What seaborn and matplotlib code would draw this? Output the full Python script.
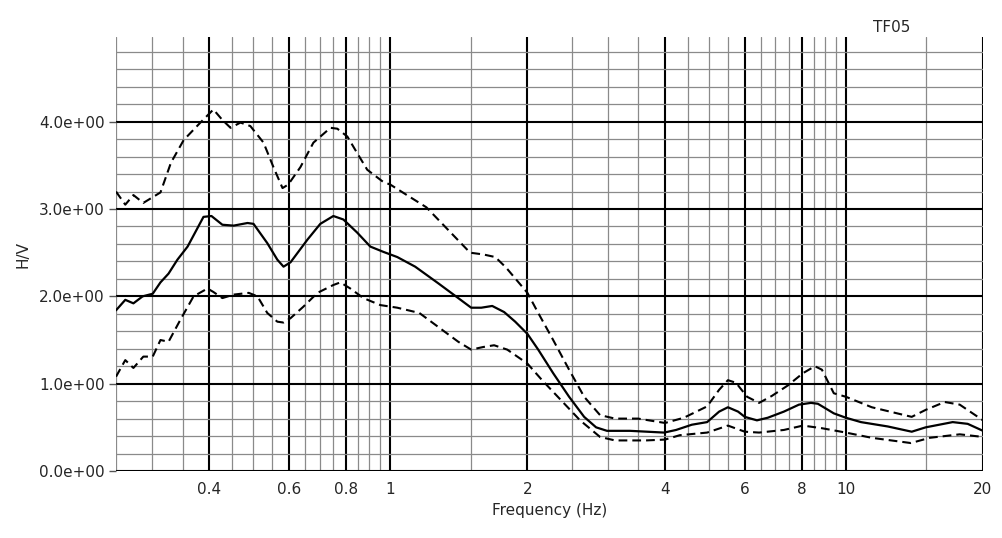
import numpy as np
import pandas as pd
import matplotlib
matplotlib.use("Agg")
import matplotlib.pyplot as plt
import seaborn as sns
from matplotlib.ticker import FixedLocator, NullFormatter, FuncFormatter

# ---- data ----
freq_mean = [0.25, 0.262, 0.273, 0.286, 0.301, 0.313, 0.326, 0.341, 0.359, 0.389, 0.405,
             0.428, 0.453, 0.486, 0.501, 0.537, 0.565, 0.583, 0.604, 0.658, 0.702, 0.750,
             0.789, 0.846, 0.904, 0.965, 1.036, 1.134, 1.274, 1.41, 1.505, 1.584, 1.674,
             1.778, 1.88, 2.0, 2.112, 2.278, 2.469, 2.664, 2.83, 2.99, 3.36, 3.99, 4.24,
             4.59, 4.96, 5.27, 5.51, 5.80, 6.00, 6.38, 6.74, 7.31, 7.89, 8.38, 8.68, 9.41,
             10.0, 10.79, 12.36, 13.95, 14.97, 17.16, 18.51, 20.0]
hv_mean = [1.84, 1.96, 1.92, 2.00, 2.03, 2.16, 2.26, 2.42, 2.57, 2.91, 2.92,
           2.82, 2.81, 2.84, 2.83, 2.61, 2.42, 2.34, 2.39, 2.65, 2.83, 2.92,
           2.88, 2.73, 2.57, 2.51, 2.45, 2.34, 2.15, 1.98, 1.87, 1.87, 1.89,
           1.82, 1.71, 1.57, 1.39, 1.12, 0.85, 0.62, 0.50, 0.46, 0.46, 0.44, 0.47,
           0.53, 0.56, 0.68, 0.73, 0.68, 0.62, 0.58, 0.61, 0.68, 0.76, 0.78, 0.77, 0.66,
           0.61, 0.56, 0.51, 0.45, 0.50, 0.56, 0.54, 0.46]

freq_upper = [0.25, 0.262, 0.273, 0.287, 0.313, 0.330, 0.352, 0.383, 0.409, 0.428, 0.446,
              0.469, 0.493, 0.527, 0.554, 0.580, 0.597, 0.635, 0.678, 0.739, 0.765, 0.805,
              0.846, 0.890, 0.965, 1.0, 1.095, 1.20, 1.497, 1.60, 1.70, 1.795, 2.0,
              2.112, 2.278, 2.469, 2.664, 2.887, 3.114, 3.50, 4.01, 4.41, 4.96, 5.27, 5.51,
              5.74, 6.07, 6.45, 6.88, 7.46, 8.05, 8.55, 8.86, 9.41, 10.0, 11.40, 13.95,
              14.97, 16.48, 17.78, 20.0]
hv_upper = [3.20, 3.05, 3.16, 3.07, 3.19, 3.53, 3.79, 3.99, 4.14, 4.02, 3.93,
            3.99, 3.95, 3.76, 3.48, 3.24, 3.28, 3.48, 3.76, 3.93, 3.92, 3.83,
            3.64, 3.45, 3.31, 3.28, 3.15, 3.02, 2.50, 2.48, 2.45, 2.33, 2.04,
            1.81, 1.50, 1.16, 0.85, 0.64, 0.60, 0.60, 0.55, 0.61, 0.74, 0.93, 1.04,
            1.01, 0.85, 0.78, 0.86, 0.98, 1.12, 1.20, 1.16, 0.89, 0.85, 0.73, 0.62,
            0.70, 0.79, 0.76, 0.58]

freq_lower = [0.25, 0.262, 0.273, 0.287, 0.301, 0.313, 0.326, 0.346, 0.370, 0.397, 0.409,
              0.428, 0.453, 0.489, 0.511, 0.537, 0.565, 0.583, 0.604, 0.644, 0.692, 0.750,
              0.777, 0.817, 0.873, 0.951, 1.036, 1.158, 1.274, 1.41, 1.505, 1.60, 1.69,
              1.806, 2.0, 2.154, 2.371, 2.61, 2.887, 3.114, 3.64, 4.01, 4.32, 4.96, 5.51,
              6.00, 6.45, 7.31, 8.05, 8.86, 10.0, 11.40, 13.89, 15.28, 17.78, 20.0]
hv_lower = [1.08, 1.27, 1.18, 1.31, 1.31, 1.50, 1.48, 1.73, 2.00, 2.09, 2.05,
            1.98, 2.02, 2.04, 2.00, 1.81, 1.71, 1.70, 1.75, 1.88, 2.04, 2.13,
            2.16, 2.09, 1.98, 1.90, 1.87, 1.81, 1.65, 1.48, 1.39, 1.42, 1.44,
            1.39, 1.23, 1.04, 0.81, 0.58, 0.39, 0.35, 0.35, 0.36, 0.41, 0.44, 0.52,
            0.45, 0.44, 0.47, 0.52, 0.49, 0.44, 0.38, 0.32, 0.38, 0.42, 0.39]

x_major = [0.4, 0.6, 0.8, 1, 2, 4, 6, 8, 10, 20]
x_tick_labels = ["0.4", "0.6", "0.8", "1", "2", "4", "6", "8", "10", "20"]
x_minor = [0.25, 0.30, 0.35, 0.45, 0.50, 0.55, 0.65, 0.70, 0.75, 0.85, 0.90, 0.95,
           1.5, 2.5, 3.0, 3.5, 4.5, 5.0, 5.5, 6.5, 7.0, 7.5, 8.5, 9.0, 9.5, 15]
y_major = [0, 1, 2, 3, 4]
station = "TF05"

# ---- plot ----
sns.set_style("white")
plt.rcParams['font.family'] = ['DejaVu Sans']

fig = plt.figure(figsize=(10.02, 5.38), dpi=100)
ax = fig.add_axes([116/1002, 1-471/538, (983-116)/1002, (471-37)/538])

df_mean = pd.DataFrame({"f": freq_mean, "hv": hv_mean})
df_up = pd.DataFrame({"f": freq_upper, "hv": hv_upper})
df_lo = pd.DataFrame({"f": freq_lower, "hv": hv_lower})

sns.lineplot(data=df_mean, x="f", y="hv", ax=ax, color="black", lw=1.6,
             estimator=None, sort=False, zorder=5)
for d in (df_up, df_lo):
    sns.lineplot(data=d, x="f", y="hv", ax=ax, color="black", lw=1.5,
                 estimator=None, sort=False, zorder=5, dashes=False)
    ax.lines[-1].set_dashes((4.2, 2.4))

ax.set_xscale("log")
ax.set_xlim(0.25, 20)
ax.set_ylim(0, 4.97)

ax.xaxis.set_major_locator(FixedLocator(x_major))
ax.xaxis.set_major_formatter(FuncFormatter(lambda v, p: x_tick_labels[x_major.index(v)] if v in x_major else ""))
ax.xaxis.set_minor_locator(FixedLocator(x_minor))
ax.xaxis.set_minor_formatter(NullFormatter())
ax.yaxis.set_major_locator(FixedLocator(y_major))
ax.yaxis.set_major_formatter(FuncFormatter(lambda v, p: f"{v:.1e}"))
ax.yaxis.set_minor_locator(FixedLocator(np.arange(0.2, 4.9, 0.2)))

ax.grid(which="major", color="black", lw=1.5, zorder=2)
ax.grid(which="minor", color="#8a8a8a", lw=0.9, zorder=1)
ax.set_axisbelow(True)

ax.tick_params(axis="y", which="major", length=5, width=1, color="#555555",
               labelsize=11, pad=3, left=True)
ax.tick_params(axis="x", which="major", length=0, labelsize=11, pad=8)
ax.tick_params(which="minor", length=0)
for s in ax.spines.values():
    s.set_visible(False)

ax.set_xlabel("Frequency (Hz)", fontsize=11, labelpad=4)
ax.set_ylabel("H/V", fontsize=11)
ax.yaxis.set_label_coords((30-116)/867, 0.5)

fig.text(892/1002, 1-28/538, station, ha="center", va="center", fontsize=11)

fig.savefig("out.png", dpi=100)
